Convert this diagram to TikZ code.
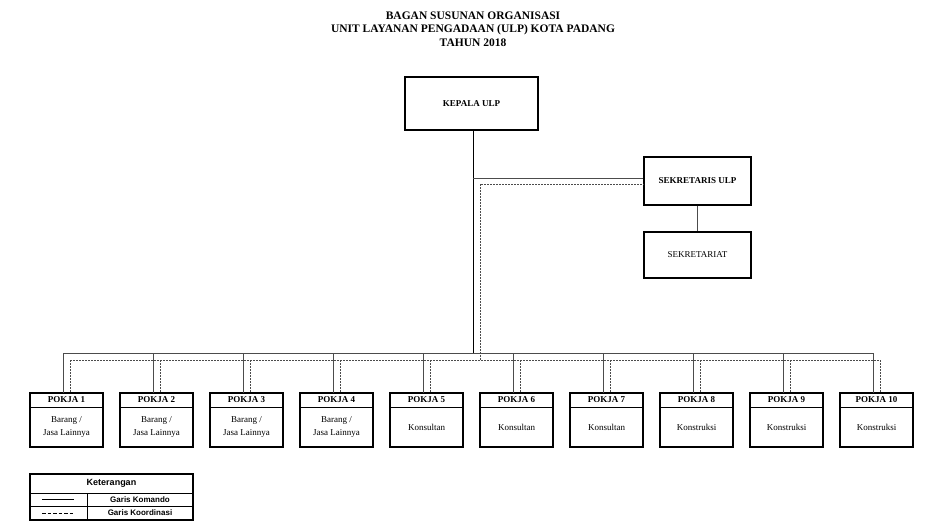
\documentclass[tikz,border=0pt]{standalone}
\usepackage{fontspec}
\setmainfont{Liberation Serif}
\newfontfamily\legfont{Liberation Sans}
\begin{document}
\begin{tikzpicture}[x=1pt,y=-1pt,
  bx/.style={draw,line width=1.4pt,inner sep=0pt},
  komando/.style={draw=black!70,line width=0.9pt},
  koord/.style={draw=black!70,line width=0.7pt,dash pattern=on 2pt off 1pt}]
\useasboundingbox (0,0) rectangle (948,528);
\node[font=\bfseries\fontsize{11.5}{13.5}\selectfont,align=center] (title) at (473,29)
  {BAGAN SUSUNAN ORGANISASI\\UNIT LAYANAN PENGADAAN (ULP) KOTA PADANG\\TAHUN 2018};
\node[bx,minimum width=133pt,minimum height=53pt,font=\bfseries\fontsize{9}{11}\selectfont] (kep) at (471.5,103.5) {KEPALA ULP};
\node[bx,minimum width=107pt,minimum height=48pt,font=\bfseries\fontsize{9}{11}\selectfont] (sek) at (697.5,181) {SEKRETARIS ULP};
\node[bx,minimum width=107pt,minimum height=46pt,font=\fontsize{9}{11}\selectfont] (sat) at (697.5,255) {SEKRETARIAT};
\draw[komando] (sek.south) -- (sat.north);
\coordinate (k1) at (473,130);
\coordinate (bus) at (473,353);
\draw[komando,draw=black] (k1) -- (bus);
\draw[komando] (473,178) -- (sek.west |- 0,178);
\draw[koord] (480,360) -- (480,184) -- (sek.west |- 0,184);
\draw[komando] (63,353) -- (873,353);
\draw[koord] (70,360) -- (880,360);
\foreach \i/\t in {1/{Barang /\\Jasa Lainnya},2/{Barang /\\Jasa Lainnya},3/{Barang /\\Jasa Lainnya},4/{Barang /\\Jasa Lainnya},5/Konsultan,6/Konsultan,7/Konsultan,8/Konstruksi,9/Konstruksi,10/Konstruksi}{
  \pgfmathsetmacro{\cx}{66.5+90*(\i-1)}
  \node[bx,minimum width=73pt,minimum height=54pt] (p\i) at (\cx,420) {};
  \draw[line width=0.8pt] (p\i.west |- 0,407) -- (p\i.east |- 0,407);
  \node[font=\bfseries\fontsize{9}{11}\selectfont] (h\i) at (\cx,400) {POKJA \i};
  \node[font=\fontsize{9}{13}\selectfont,align=center] (d\i) at (\cx,427) {\t};
  \draw[komando] (\cx-3.5,353) -- (\cx-3.5,393);
  \draw[koord] (\cx+3.5,360) -- (\cx+3.5,393);
}
\node[bx,minimum width=163pt,minimum height=46pt] (leg) at (111.5,497) {};
\draw[line width=0.8pt] (30,493) -- (193,493) (30,506) -- (193,506) (87,493) -- (87,520);
\node[font=\legfont\bfseries\fontsize{9}{10}\selectfont] (lt) at (111.5,483.5) {Keterangan};
\node[font=\legfont\bfseries\fontsize{8}{9}\selectfont] (l1) at (140,499.5) {Garis Komando};
\node[font=\legfont\bfseries\fontsize{8}{9}\selectfont] (l2) at (140,513) {Garis Koordinasi};
\coordinate (a1) at (42,499.5); \coordinate (a2) at (74,499.5);
\draw[line width=0.8pt] (a1) -- (a2);
\coordinate (b1) at (42,513); \coordinate (b2) at (74,513);
\draw[line width=0.8pt,dash pattern=on 3.5pt off 2pt] (b1) -- (b2);
\end{tikzpicture}
\end{document}
